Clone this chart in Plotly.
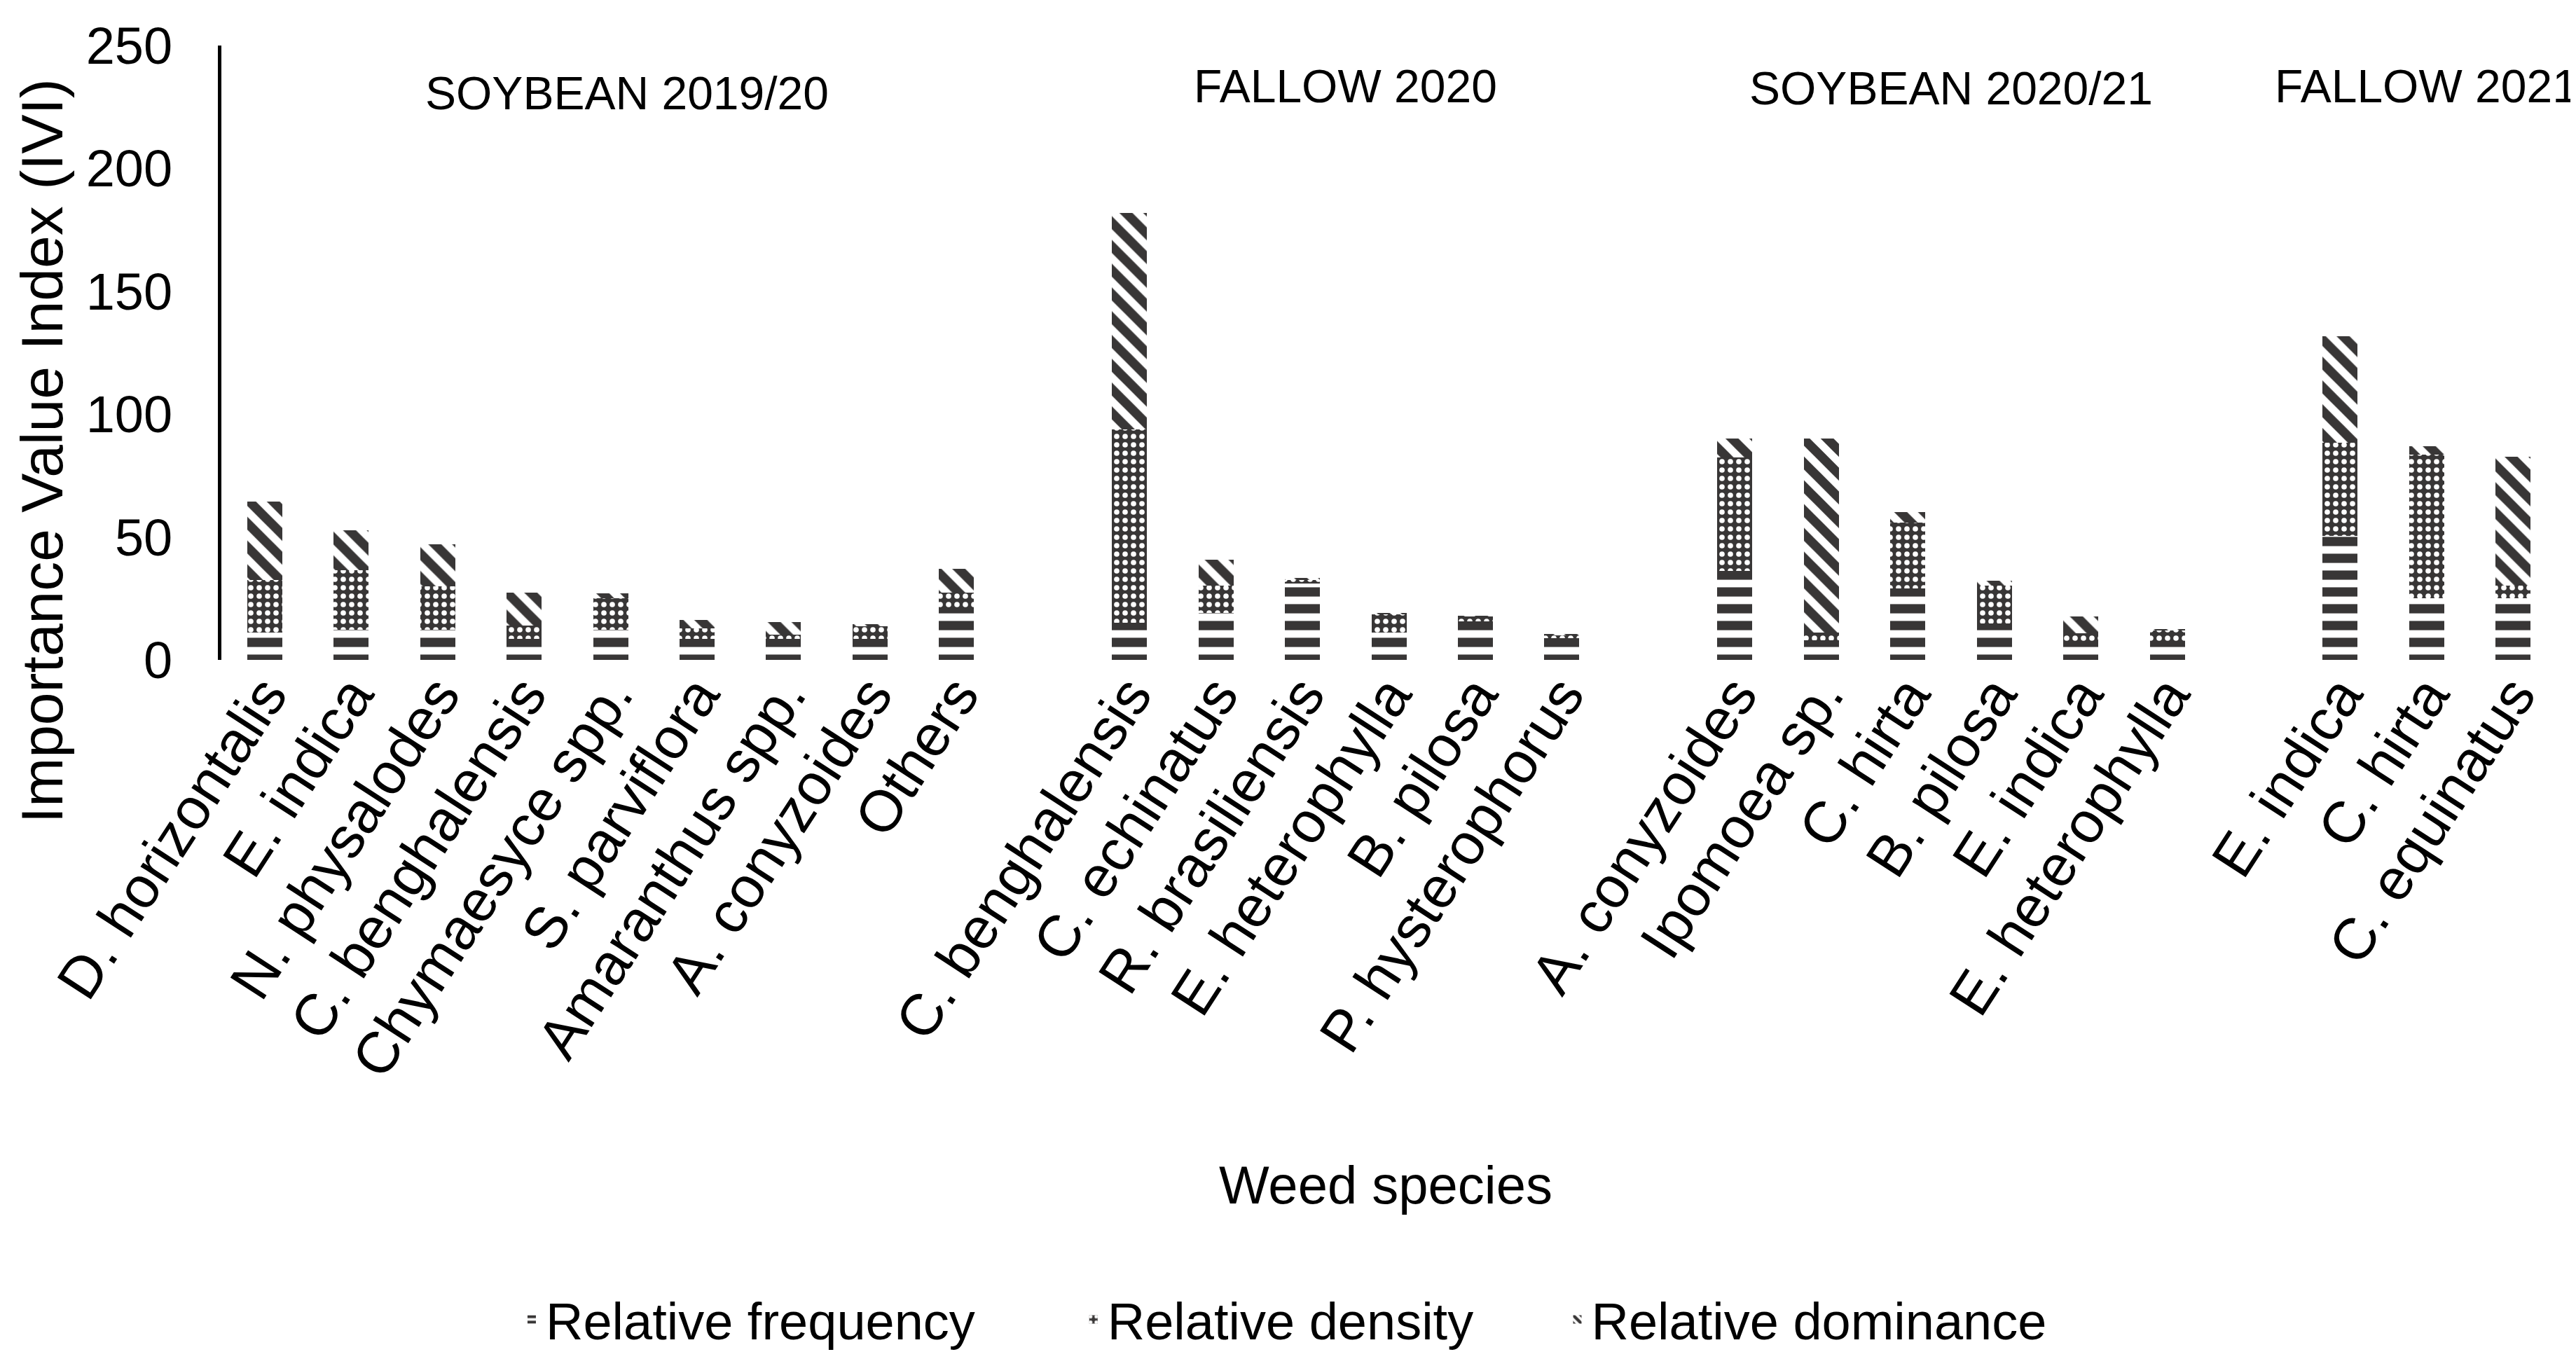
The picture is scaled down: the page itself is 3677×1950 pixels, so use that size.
import plotly.graph_objects as go

# ---------------- data ----------------
group_names = ["SOYBEAN 2019/20", "FALLOW 2020", "SOYBEAN 2020/21", "FALLOW 2021"]

species_soy19 = ["D. horizontalis", "E. indica", "N. physalodes", "C. benghalensis",
                 "Chymaesyce spp.", "S. parviflora", "Amaranthus spp.", "A. conyzoides", "Others"]
freq_soy19 = [11.2, 12.4, 12.4, 8.5, 12.4, 8.5, 8.5, 8.5, 21.2]
dens_soy19 = [21.3, 24.0, 17.4, 5.6, 12.6, 4.2, 1.8, 5.1, 6.2]
dom_soy19 = [31.9, 16.2, 17.1, 13.3, 2.1, 3.6, 5.0, 0.8, 9.8]

species_fal20 = ["C. benghalensis", "C. echinatus", "R. brasiliensis", "E. heterophylla",
                 "B. pilosa", "P. hysterophorus"]
freq_fal20 = [15.0, 19.0, 31.0, 11.2, 15.6, 8.7]
dens_fal20 = [78.8, 11.3, 1.5, 7.5, 2.1, 1.4]
dom_fal20 = [88.0, 10.5, 0.8, 0.3, 0.2, 0.2]

species_soy21 = ["A. conyzoides", "Ipomoea sp.", "C. hirta", "B. pilosa", "E. indica", "E. heterophylla"]
freq_soy21 = [36.2, 8.1, 29.0, 14.7, 7.6, 7.6]
dens_soy21 = [46.1, 3.1, 26.9, 15.5, 3.3, 4.5]
dom_soy21 = [7.9, 79.0, 4.3, 2.0, 6.8, 0.2]

species_fal21 = ["E. indica", "C. hirta", "C. equinatus"]
freq_fal21 = [50.5, 25.1, 25.1]
dens_fal21 = [37.8, 58.4, 5.2]
dom_fal21 = [43.3, 3.5, 52.4]

y_ticks = [0, 50, 100, 150, 200, 250]
series_names = ["Relative frequency", "Relative density", "Relative dominance"]

# ---------------- build positions (one empty slot between groups) ----------------
groups = [
    (species_soy19, freq_soy19, dens_soy19, dom_soy19),
    (species_fal20, freq_fal20, dens_fal20, dom_fal20),
    (species_soy21, freq_soy21, dens_soy21, dom_soy21),
    (species_fal21, freq_fal21, dens_fal21, dom_fal21),
]
pos, labels, F, D, M, centers = [], [], [], [], [], []
start = 0
for names, f, d, m in groups:
    xs = list(range(start, start + len(names)))
    centers.append((xs[0] + xs[-1]) / 2)
    pos += xs
    labels += names
    F += f
    D += d
    M += m
    start += len(names) + 1

DARK = "#383636"
FONT = "Liberation Sans, Arial, sans-serif"
BW = 0.405
NB = "\u00a0"  # spacing after legend entries

fig = go.Figure()
fig.add_trace(go.Bar(
    x=pos, y=F, name=series_names[0] + NB * 7, width=BW,
    marker=dict(color="white", line=dict(width=0),
                pattern=dict(shape="-", fgcolor=DARK, bgcolor="white", size=24,
                             solidity=0.55, fgopacity=1)),
))
fig.add_trace(go.Bar(
    x=pos, y=D, name=series_names[1] + NB * 6, width=BW,
    marker=dict(color=DARK, line=dict(width=0),
                pattern=dict(shape=".", fgcolor="white", bgcolor=DARK, size=12,
                             solidity=0.32, fgopacity=1)),
))
fig.add_trace(go.Bar(
    x=pos, y=M, name=series_names[2], width=BW,
    marker=dict(color="white", line=dict(width=0),
                pattern=dict(shape="\\", fgcolor=DARK, bgcolor="white", size=24,
                             solidity=0.55, fgopacity=1)),
))

group_label_dx = [0.19, 0.0, 0.0, 0.0]
group_label_y = [230.5, 233.5, 232.5, 233.5]
annotations = []
for name, cx, dx, gy in zip(group_names, centers, group_label_dx, group_label_y):
    annotations.append(dict(x=cx + dx, y=gy, xref="x", yref="y", text=name, showarrow=False,
                            xanchor="center", yanchor="middle",
                            font=dict(family=FONT, size=66, color="black")))
annotations.append(dict(x=-0.077, y=0.34, xref="paper", yref="paper",
                        text="Importance Value Index (IVI)", textangle=-90, showarrow=False,
                        xanchor="center", yanchor="middle",
                        font=dict(family=FONT, size=84, color="black")))
annotations.append(dict(x=0.4987, y=-0.855, xref="paper", yref="paper",
                        text="Weed species", showarrow=False,
                        xanchor="center", yanchor="middle",
                        font=dict(family=FONT, size=76, color="black")))

fig.update_layout(
    width=3677, height=1950,
    margin=dict(l=308, r=36, t=57, b=1016, autoexpand=False),
    paper_bgcolor="white", plot_bgcolor="white",
    barmode="stack",
    annotations=annotations,
    showlegend=True,
    legend=dict(orientation="h", x=0.1269, xanchor="left", y=-1.074, yanchor="middle",
                font=dict(family=FONT, size=74, color="black"), traceorder="normal"),
    xaxis=dict(range=[pos[0] - 0.5, pos[-1] + 0.5], tickmode="array", tickvals=pos, ticktext=labels,
               tickangle=-57, tickfont=dict(family=FONT, size=83, color="black"),
               showline=False, showgrid=False, zeroline=False, automargin=False,
               ticks="", ticklabelstandoff=-16),
    yaxis=dict(range=[0, 250], tickmode="array", tickvals=y_ticks,
               tickfont=dict(family=FONT, size=74, color="black"),
               showline=True, linecolor="black", linewidth=5,
               showgrid=False, zeroline=False, automargin=False,
               ticks="outside", ticklen=50, tickcolor="rgba(0,0,0,0)"),
)

fig.write_html("out.html")
